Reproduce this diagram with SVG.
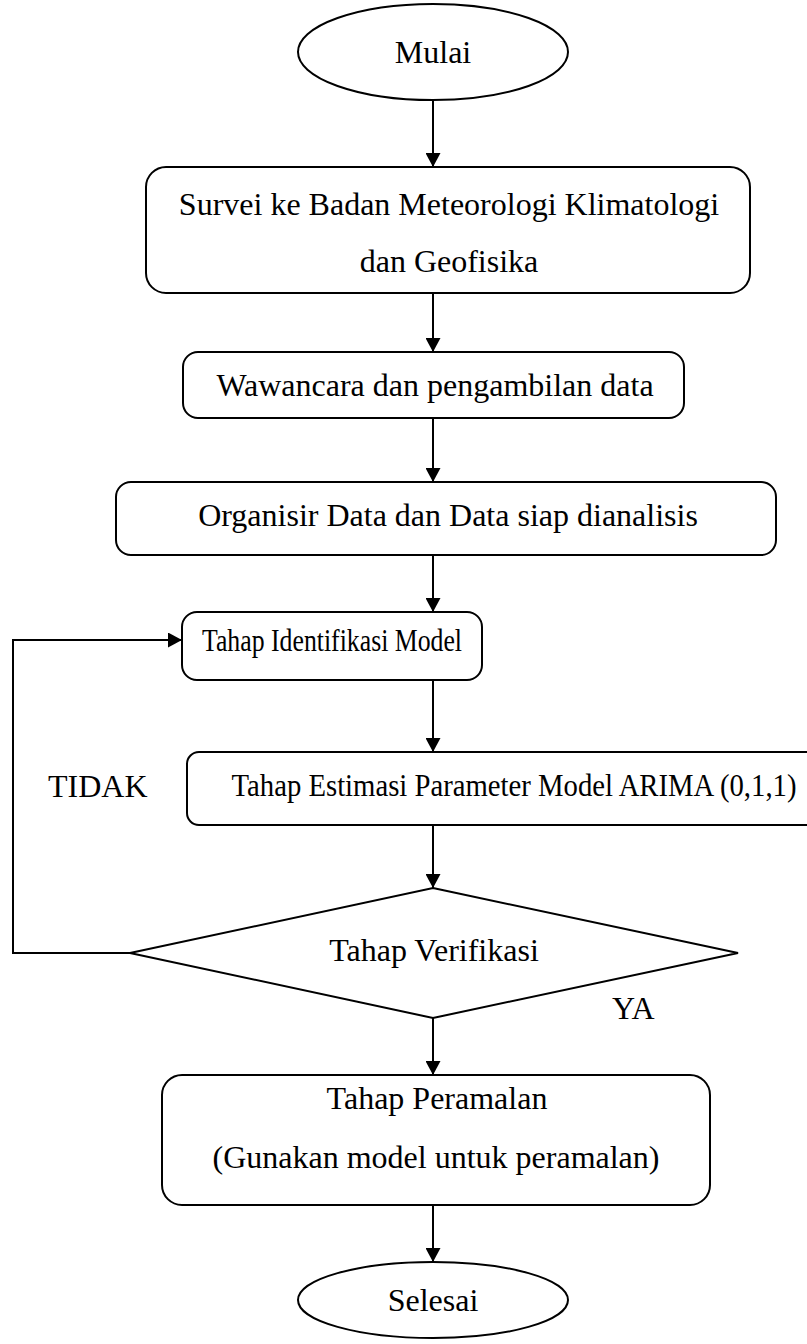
<svg xmlns="http://www.w3.org/2000/svg" width="807" height="1344" viewBox="0 0 807 1344">
<style>
.s{fill:#fff;stroke:#000;stroke-width:2}
.t{font-family:"Liberation Serif","Times New Roman",serif;font-size:32px;fill:#000;text-anchor:middle}
.c{fill:none;stroke:#000;stroke-width:2}
</style>
<defs>
<marker id="ah" viewBox="0 0 14 15" refX="14" refY="7.5" markerWidth="14" markerHeight="15" markerUnits="userSpaceOnUse" orient="auto">
<path d="M0,0 L14,7.5 L0,15 Z" fill="#000"/>
</marker>
</defs>
<rect width="807" height="1344" fill="#fff"/>
<g id="connectors">
<line class="c" x1="433" y1="100" x2="433" y2="167" marker-end="url(#ah)"/>
<line class="c" x1="433" y1="293" x2="433" y2="352" marker-end="url(#ah)"/>
<line class="c" x1="433" y1="418" x2="433" y2="482" marker-end="url(#ah)"/>
<line class="c" x1="433" y1="555" x2="433" y2="612" marker-end="url(#ah)"/>
<line class="c" x1="433" y1="680" x2="433" y2="752" marker-end="url(#ah)"/>
<line class="c" x1="433" y1="825" x2="433" y2="888" marker-end="url(#ah)"/>
<line class="c" x1="433" y1="1018" x2="433" y2="1075" marker-end="url(#ah)"/>
<line class="c" x1="433" y1="1205" x2="433" y2="1262" marker-end="url(#ah)"/>
<polyline class="c" points="130,953 13,953 13,640 182,640" marker-end="url(#ah)"/>
<text class="t" x="48" y="797" style="text-anchor:start">TIDAK</text>
<text class="t" x="612" y="1019" style="text-anchor:start">YA</text>
</g>
<g id="mulai">
<ellipse class="s" cx="433" cy="52" rx="135" ry="48"/>
<text class="t" x="433" y="63">Mulai</text>
</g>
<g id="survei">
<rect class="s" x="146" y="167" width="604" height="126" rx="20"/>
<text class="t" x="449" y="215">Survei ke Badan Meteorologi Klimatologi</text>
<text class="t" x="449" y="272">dan Geofisika</text>
</g>
<g id="wawancara">
<rect class="s" x="183" y="352" width="501" height="66" rx="15"/>
<text class="t" x="435" y="396">Wawancara dan pengambilan data</text>
</g>
<g id="organisir">
<rect class="s" x="116" y="482" width="660" height="73" rx="15"/>
<text class="t" x="448" y="526">Organisir Data dan Data siap dianalisis</text>
</g>
<g id="identifikasi">
<rect class="s" x="182" y="612" width="300" height="68" rx="15"/>
<text class="t" x="332" y="651" textLength="260" lengthAdjust="spacingAndGlyphs">Tahap Identifikasi Model</text>
</g>
<g id="estimasi">
<rect class="s" x="187" y="752" width="640" height="73" rx="12"/>
<text class="t" x="514" y="796" textLength="565" lengthAdjust="spacingAndGlyphs">Tahap Estimasi Parameter Model ARIMA (0,1,1)</text>
</g>
<g id="verifikasi">
<polygon class="s" points="433,888 738,953 433,1018 130,953"/>
<text class="t" x="434" y="961">Tahap Verifikasi</text>
</g>
<g id="peramalan">
<rect class="s" x="162" y="1075" width="548" height="130" rx="20"/>
<text class="t" x="437" y="1109">Tahap Peramalan</text>
<text class="t" x="436" y="1168">(Gunakan model untuk peramalan)</text>
</g>
<g id="selesai">
<ellipse class="s" cx="433" cy="1300" rx="135" ry="38"/>
<text class="t" x="433" y="1311">Selesai</text>
</g>
</svg>
